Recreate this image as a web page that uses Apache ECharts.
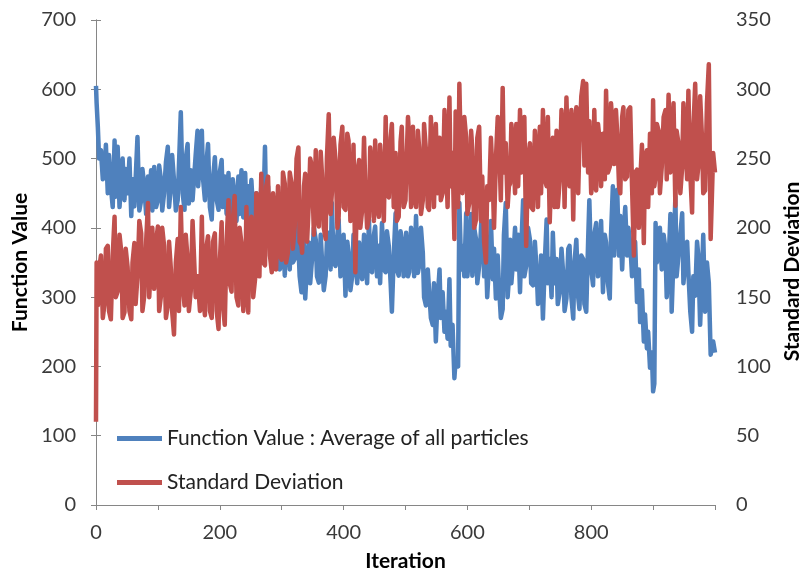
<!DOCTYPE html>
<html>
<head>
<meta charset="utf-8">
<script src="https://cdn.jsdelivr.net/npm/echarts@6/dist/echarts.min.js"></script>
<style>
html,body{margin:0;padding:0;background:#fff;}
#chart{width:800px;height:573px;}
</style>
</head>
<body>
<div id="chart"></div>
<script>
var iterations = [
0,1,3,5,8,11,14,16,19,21,24,27,30,32,35,38,41,43,46,48,51,54,57,59,62,64,67,70,73,75,78,81,84,86,89,91,94,97,100,102,105,107,110,113,116,118,121,123,126,129,132,134,137,140,143,145,148,150,153,156,159,161,164,
165,168,171,173,176,178,181,184,187,189,192,195,198,200,203,205,208,211,214,216,219,221,224,227,230,232,235,238,241,243,246,248,251,254,257,259,262,264,267,270,273,275,278,281,284,286,289,291,294,297,300,302,305,307,310,313,316,318,321,324,327,329,332,
333,336,338,341,344,346,349,352,355,357,360,363,365,368,371,373,376,379,381,384,387,390,392,395,398,400,403,406,408,411,414,416,419,422,425,427,430,433,435,438,441,443,446,449,451,454,457,459,462,465,468,470,473,476,478,481,484,486,489,492,494,497,500,
501,504,506,509,512,514,517,520,522,525,528,530,533,536,538,541,544,546,549,552,555,557,560,563,565,568,571,573,576,579,581,585,587,590,592,595,598,600,603,606,608,611,614,616,619,622,624,627,630,632,635,638,641,643,646,649,651,654,657,659,662,665,667,
669,671,674,677,679,682,685,687,690,692,695,698,701,703,706,709,712,714,717,719,722,725,728,730,733,736,738,741,744,746,749,752,755,757,760,763,765,768,771,773,776,779,781,784,787,789,792,795,797,800,803,805,808,811,814,816,819,822,824,827,830,832,835,
837,840,842,845,847,850,852,855,858,860,863,866,869,871,874,877,879,882,885,887,890,892,895,898,900,902,904,906,909,911,914,917,920,922,925,928,930,933,936,938,941,944,947,949,952,955,957,960,963,965,968,971,973,976,979,981,984,987,990,993,997,1000];

var functionValue = [
605,580,545,500,512,470,483,520,450,505,460,430,526,445,517,430,474,500,440,485,450,500,417,470,431,470,531,425,440,485,460,420,474,430,483,425,488,430,440,490,469,425,450,495,517,430,460,505,469,425,440,490,567,450,426,500,521,435,483,440,440,505,540,
460,500,540,470,440,490,521,430,412,470,502,440,426,480,498,430,474,420,479,430,417,470,445,410,474,420,483,415,479,420,460,410,469,420,402,450,445,405,460,410,517,420,460,390,402,440,364,420,426,340,355,400,331,390,393,340,426,350,355,410,374,330,307,
331,380,298,350,379,320,355,400,383,330,321,390,355,310,331,380,393,340,436,350,345,390,412,330,331,390,302,380,364,310,331,390,355,320,379,340,326,390,364,320,412,340,336,390,402,330,374,320,407,340,336,395,374,320,279,360,421,340,331,395,383,330,360,
393,330,336,400,374,330,417,335,345,400,364,300,288,340,312,270,260,320,236,300,340,270,307,250,279,240,326,230,260,183,210,200,436,340,374,330,421,330,364,420,331,400,383,320,345,400,436,330,364,300,350,410,326,370,298,360,317,270,283,390,436,300,326,
383,320,355,400,340,390,307,370,440,330,345,400,383,320,317,380,336,290,298,360,269,350,412,320,355,300,393,320,355,290,307,370,331,280,298,370,374,300,269,350,383,300,283,360,355,290,279,380,440,340,317,390,407,330,355,410,307,390,379,320,298,390,460,
360,440,455,360,417,340,388,430,360,400,379,330,331,380,293,340,264,310,236,275,226,250,198,220,164,175,407,350,369,400,340,390,369,300,350,420,279,360,445,330,331,390,421,320,321,380,336,280,250,330,302,380,360,260,331,390,279,350,321,217,236,220];

var stdDev = [
60,175,144,170,180,135,146,185,187,140,134,180,208,150,154,195,182,135,139,185,172,140,134,175,189,145,165,205,196,140,151,190,218,150,177,200,156,190,201,140,151,200,187,135,144,190,170,140,123,175,192,140,215,160,144,195,177,140,154,205,204,150,165,
165,140,208,150,137,185,194,140,135,190,196,140,127,175,204,145,130,190,220,160,154,205,223,150,144,200,189,140,158,215,139,200,208,150,163,225,206,165,239,175,173,230,237,180,168,225,206,170,230,180,177,240,232,175,182,240,232,185,201,250,258,190,187,
182,230,239,190,220,250,244,195,256,210,201,255,239,200,192,250,282,210,225,265,249,200,208,260,273,215,213,268,263,205,220,260,168,240,249,200,213,265,230,200,208,258,242,205,263,215,208,260,237,205,280,225,222,265,275,215,254,205,208,262,273,215,220,
237,280,265,215,273,225,215,270,258,210,220,275,256,215,213,280,244,215,275,225,265,220,225,285,258,215,294,230,254,192,284,215,304,240,225,280,265,210,218,270,256,200,206,265,273,205,237,190,175,230,220,265,234,200,249,280,265,220,301,240,261,215,230,
232,275,261,225,275,230,285,240,242,280,187,250,261,215,213,270,249,215,273,225,285,235,230,280,204,250,265,215,270,215,234,285,261,215,294,240,230,285,206,265,287,225,261,295,306,245,304,240,277,225,237,285,227,275,261,230,268,235,299,240,244,290,270,
246,285,268,230,225,280,287,235,237,285,287,230,180,240,242,200,232,260,189,250,256,215,268,225,292,230,237,275,270,225,244,280,285,235,296,240,254,290,216,270,261,225,244,290,289,235,299,240,211,270,304,235,244,295,265,225,227,290,318,192,254,240];

var seriesNames = ['Function Value : Average of all particles', 'Standard Deviation'];
var xTitle = 'Iteration';
var yLeftTitle = 'Function Value';
var yRightTitle = 'Standard Deviation';

function pairs(xs, ys){ return xs.map(function(x,i){ return [x, ys[i]]; }); }

var axisGray = '#868686';
var labelColor = '#3a3a3a';
var fontFam = 'Lato, "Open Sans", sans-serif';

var chart = echarts.init(document.getElementById('chart'), null, {renderer:'canvas'});
chart.setOption({
  animation: false,
  backgroundColor: '#ffffff',
  grid: {left: 96, right: 85, top: 20, bottom: 68, containLabel: false, outerBoundsMode: 'none'},
  legend: {
    orient: 'vertical',
    left: 117, top: 428, padding: 0,
    itemWidth: 45, itemHeight: 5, itemGap: 23,
    icon: 'rect',
    textStyle: {fontSize: 21, color: '#222', fontFamily: fontFam},
    data: seriesNames
  },
  xAxis: [{
    type: 'value', position: 'bottom', min: 0, max: 1000, interval: 100,
    axisLine: {show: true, lineStyle: {color: axisGray, width: 1}},
    axisTick: {show: true, inside: false, length: 5, lineStyle: {color: axisGray}},
    splitLine: {show: false},
    axisLabel: {
      fontSize: 20, color: labelColor, fontFamily: fontFam, margin: 18,
      formatter: function(v){ return (v % 200 === 0 && v < 1000) ? String(v) : ''; }
    },
    name: xTitle, nameLocation: 'middle', nameGap: 46,
    nameTextStyle: {fontSize: 21, fontWeight: 'bold', color: '#000', fontFamily: fontFam}
  },{
    type: 'value', position: 'top', min: 0, max: 1000, interval: 100,
    axisLine: {show: true, lineStyle: {color: axisGray, width: 1}},
    axisTick: {show: true, inside: true, length: 5, lineStyle: {color: axisGray}},
    axisLabel: {show: false},
    splitLine: {show: false}
  }],
  yAxis: [{
    type: 'value', position: 'left', min: 0, max: 700, interval: 100,
    axisLine: {show: true, lineStyle: {color: axisGray, width: 1}},
    axisTick: {show: true, inside: true, length: 5, lineStyle: {color: axisGray}},
    splitLine: {show: false},
    axisLabel: {fontSize: 20, color: labelColor, fontFamily: fontFam, margin: 20},
    name: yLeftTitle, nameLocation: 'middle', nameGap: 65, nameRotate: 90,
    nameTextStyle: {fontSize: 21, fontWeight: 'bold', color: '#000', fontFamily: fontFam}
  },{
    type: 'value', position: 'right', min: 0, max: 350, interval: 50,
    axisLine: {show: true, lineStyle: {color: axisGray, width: 1}},
    axisTick: {show: true, inside: true, length: 5, lineStyle: {color: axisGray}},
    splitLine: {show: false},
    axisLabel: {fontSize: 20, color: labelColor, fontFamily: fontFam, margin: 21},
    name: yRightTitle, nameLocation: 'middle', nameGap: 65, nameRotate: 90,
    nameTextStyle: {fontSize: 21, fontWeight: 'bold', color: '#000', fontFamily: fontFam, padding: [0, 18, 0, 0]}
  }],
  series: [{
    name: seriesNames[0], type: 'line', xAxisIndex: 0, yAxisIndex: 0,
    showSymbol: false, symbol: 'none', smooth: false,
    lineStyle: {width: 4.5, color: '#4F81BD', join: 'round'}, itemStyle: {color: '#4F81BD'},
    data: pairs(iterations, functionValue)
  },{
    name: seriesNames[1], type: 'line', xAxisIndex: 0, yAxisIndex: 1,
    showSymbol: false, symbol: 'none', smooth: false,
    lineStyle: {width: 4.5, color: '#C0504D', join: 'round'}, itemStyle: {color: '#C0504D'},
    data: pairs(iterations, stdDev)
  }]
});
</script>
</body>
</html>
